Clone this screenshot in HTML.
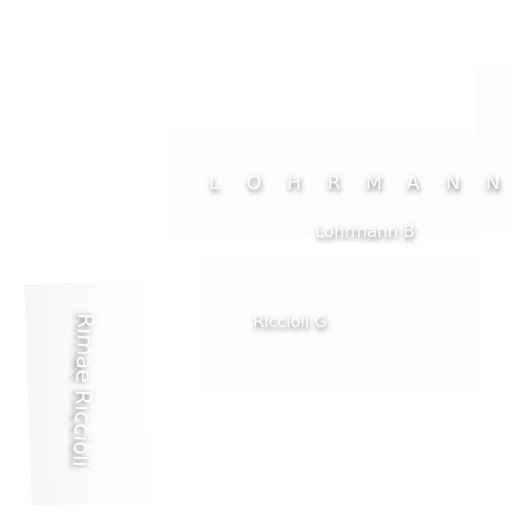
<!DOCTYPE html>
<html><head><meta charset="utf-8"><style>
html,body{margin:0;padding:0;background:#fff;}
#root{position:relative;width:512px;height:512px;overflow:hidden;background:#fff;font-family:"DejaVu Sans","Liberation Sans",sans-serif;}
.lbl{position:absolute;color:#fff;white-space:nowrap;line-height:1;text-shadow:1px 3px 5px rgba(0,0,0,0.42),0 3px 10px rgba(0,0,0,0.15);}
.ch{font-size:19px;transform:translateX(-50%);top:174px;}
.panel{position:absolute;}
</style></head><body>
<div id="root">
  <div class="panel" style="left:172px;top:132px;width:306px;height:104px;background:rgba(0,0,0,0.008);"></div>
  <div class="panel" style="left:200px;top:260px;width:276px;height:130px;background:rgba(0,0,0,0.007);"></div>
  <div class="panel" style="left:476px;top:70px;width:36px;height:160px;background:rgba(0,0,0,0.01);"></div>
  <div class="panel" style="left:28px;top:282px;width:116px;height:222px;transform:rotate(-2deg);background:linear-gradient(to right,rgba(0,0,0,0.035),rgba(0,0,0,0.015) 60%,rgba(0,0,0,0.005));"></div>

  <div>
    <span class="lbl ch" style="left:214px;">L</span>
    <span class="lbl ch" style="left:254px;">O</span>
    <span class="lbl ch" style="left:294px;">H</span>
    <span class="lbl ch" style="left:334px;">R</span>
    <span class="lbl ch" style="left:374px;">M</span>
    <span class="lbl ch" style="left:413px;">A</span>
    <span class="lbl ch" style="left:453px;">N</span>
    <span class="lbl ch" style="left:493px;">N</span>
  </div>
  <div class="lbl" style="left:315px;top:224px;font-size:16.5px;">Lohrmann B</div>
  <div class="lbl" style="left:253px;top:314px;font-size:16px;">Riccioli G</div>
  <div class="lbl" style="left:82px;top:390px;font-size:22px;transform:translate(-50%,-50%) rotate(92deg);">Rimae Riccioli</div>
</div>
</body></html>
